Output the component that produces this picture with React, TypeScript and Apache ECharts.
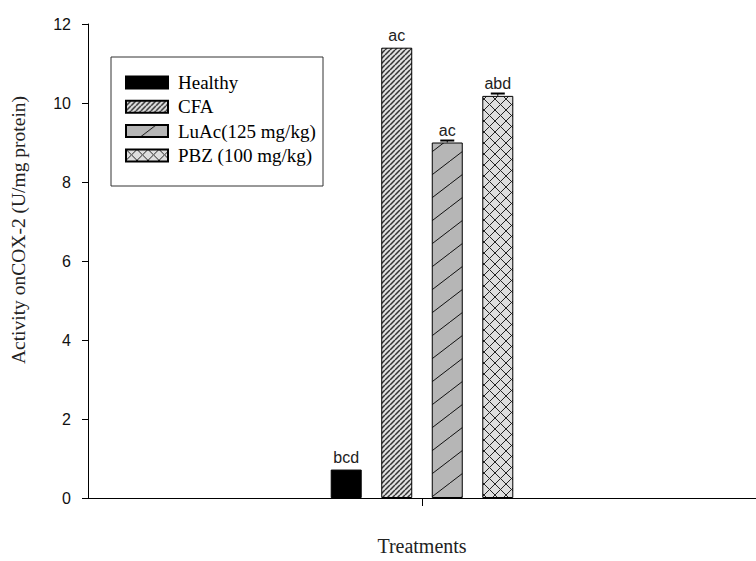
import { useEffect, useRef } from 'react';
import * as echarts from 'echarts';

// Treatment groups, mean COX-2 activity (U/mg protein), SEM, and significance letters
const groups = ['Healthy', 'CFA', 'LuAc(125 mg/kg)', 'PBZ (100 mg/kg)'];
const means = [0.72, 11.4, 9.0, 10.18];
const errors = [0, 0, 0.05, 0.06];
const letters = ['bcd', 'ac', 'ac', 'abd'];
const xCategories = ['Treatments'];
const yMin = 0;
const yMax = 12;
const yStep = 2;

const BAR_WIDTH = 31;
const BAR_GAP = 0.63;
const SERIF = '"Liberation Serif", "Times New Roman", serif';
const SANS = '"Liberation Sans", Arial, sans-serif';

type Painter = (ctx: CanvasRenderingContext2D, w: number, h: number) => void;

function tile(w: number, h: number, bg: string, paint: Painter): HTMLCanvasElement {
  const c = document.createElement('canvas');
  c.width = w;
  c.height = h;
  const ctx = c.getContext('2d')!;
  ctx.fillStyle = bg;
  ctx.fillRect(0, 0, w, h);
  paint(ctx, w, h);
  return c;
}

// rising diagonal "/" lines, one per tile, repeated across neighbours so edges join
const rising = (color: string, width: number): Painter => (ctx, w, h) => {
  ctx.strokeStyle = color;
  ctx.lineWidth = width;
  ctx.beginPath();
  for (let k = -1; k <= 1; k++) {
    ctx.moveTo(k * w, h);
    ctx.lineTo(k * w + w, 0);
  }
  ctx.stroke();
};

const crossed = (color: string, width: number): Painter => (ctx, w, h) => {
  ctx.strokeStyle = color;
  ctx.lineWidth = width;
  ctx.beginPath();
  for (let k = -1; k <= 1; k++) {
    ctx.moveTo(k * w, h);
    ctx.lineTo(k * w + w, 0);
    ctx.moveTo(k * w, 0);
    ctx.lineTo(k * w + w, h);
  }
  ctx.stroke();
};

export default function App() {
  const ref = useRef<HTMLDivElement>(null);

  useEffect(() => {
    if (!ref.current) return;
    const chart = echarts.init(ref.current, undefined, { renderer: 'svg' });

    const fills: any[] = [
      '#000000',
      { image: tile(5, 5, '#e0e0e0', rising('#333333', 1.5)), repeat: 'repeat' },
      { image: tile(30, 23, '#b6b6b6', rising('#111111', 1)), repeat: 'repeat' },
      { image: tile(11, 11, '#dedede', crossed('#222222', 1)), repeat: 'repeat' },
    ];

    const step = BAR_WIDTH * (1 + BAR_GAP);

    const barSeries = groups.map((name, i) => ({
      name,
      type: 'bar',
      data: [means[i]],
      barWidth: BAR_WIDTH,
      barGap: `${BAR_GAP * 100}%`,
      itemStyle: { color: fills[i], borderColor: '#000', borderWidth: 1 },
      label: {
        show: true,
        position: 'top',
        distance: 4,
        formatter: () => letters[i],
        fontFamily: SANS,
        fontSize: 16,
        color: '#222',
      },
      z: 2,
    }));

    const errorSeries = {
      type: 'custom',
      name: 'sem',
      data: groups.map((_, i) => [0, means[i], errors[i], i]),
      encode: { x: 0, y: 1 },
      z: 5,
      renderItem: (_params: any, api: any) => {
        const m = api.value(1);
        const e = api.value(2);
        const i = api.value(3);
        if (!e) return null;
        const base = api.coord([0, m]);
        const top = api.coord([0, m + e]);
        const x = base[0] + (i - (groups.length - 1) / 2) * step;
        return {
          type: 'group',
          children: [
            { type: 'line', shape: { x1: x, y1: base[1], x2: x, y2: top[1] }, style: { stroke: '#000', lineWidth: 1 } },
            { type: 'line', shape: { x1: x - 7, y1: top[1], x2: x + 7, y2: top[1] }, style: { stroke: '#000', lineWidth: 2 } },
          ],
        };
      },
    };

    chart.setOption({
      animation: false,
      backgroundColor: '#ffffff',
      grid: { left: 88, right: -10, top: 24, bottom: 55, containLabel: false },
      legend: {
        data: groups,
        orient: 'vertical',
        left: 125,
        top: 73,
        padding: 0,
        itemWidth: 42,
        itemHeight: 12,
        itemGap: 5.3,
        icon: 'rect',
        textStyle: { fontFamily: SERIF, fontSize: 19, color: '#000', lineHeight: 18, padding: [0, 0, 0, 5] },
      },
      graphic: [
        {
          type: 'rect',
          shape: { x: 111, y: 57, width: 212, height: 129 },
          style: { fill: 'none', stroke: '#333', lineWidth: 1 },
          z: 10,
        },
        {
          type: 'text',
          x: 18,
          y: 230,
          rotation: Math.PI / 2,
          style: {
            text: 'Activity onCOX-2 (U/mg protein)',
            fontFamily: SERIF,
            fontSize: 19.5,
            fill: '#222',
            align: 'center',
            verticalAlign: 'middle',
          },
        },
      ],
      xAxis: {
        type: 'category',
        data: xCategories,
        name: 'Treatments',
        nameLocation: 'middle',
        nameGap: 38,
        nameTextStyle: { fontFamily: SERIF, fontSize: 20, color: '#222' },
        axisLine: { lineStyle: { color: '#000', width: 1 } },
        axisTick: { show: true, alignWithLabel: true, length: 8, lineStyle: { color: '#000' } },
        axisLabel: { show: false },
        splitLine: { show: false },
      },
      yAxis: {
        type: 'value',
        min: yMin,
        max: yMax,
        interval: yStep,
        axisLine: { show: true, lineStyle: { color: '#000', width: 1 } },
        axisTick: { show: true, length: 6, lineStyle: { color: '#000' } },
        axisLabel: { fontFamily: SANS, fontSize: 16, color: '#111', margin: 17 },
        splitLine: { show: false },
      },
      series: [...barSeries, errorSeries],
    });

    return () => chart.dispose();
  }, []);

  return (
    <div
      ref={ref}
      style={{ position: 'fixed', left: 0, top: 0, width: 756, height: 561, background: '#fff' }}
    />
  );
}
